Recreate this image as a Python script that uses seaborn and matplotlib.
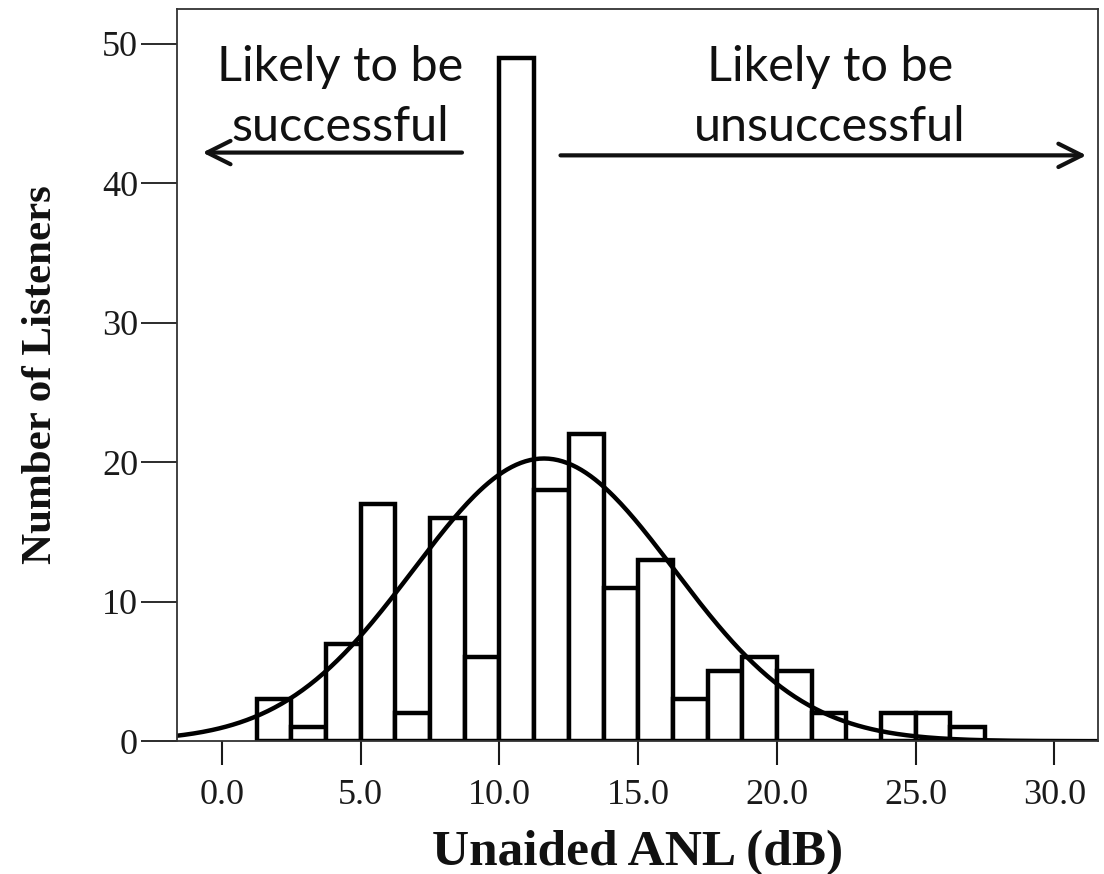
import numpy as np
import pandas as pd
import matplotlib
matplotlib.use("Agg")
import matplotlib.pyplot as plt
import seaborn as sns

# --- dados ---
bin_width = 1.25
bin_left = [1.25, 2.5, 3.75, 5.0, 6.25, 7.5, 8.75, 10.0, 11.25, 12.5, 13.75,
            15.0, 16.25, 17.5, 18.75, 20.0, 21.25, 22.5, 23.75, 25.0, 26.25]
counts = [3, 1, 7, 17, 2, 16, 6, 49, 18, 22, 11,
          13, 3, 5, 6, 5, 2, 0, 2, 2, 1]
curve_mean = 11.6   # pico da curva normal
curve_sd = 4.7
x_ticks = [0.0, 5.0, 10.0, 15.0, 20.0, 25.0, 30.0]
y_ticks = [0, 10, 20, 30, 40, 50]

df = pd.DataFrame({"anl": np.array(bin_left) + bin_width / 2, "n": counts})
edges = list(bin_left) + [bin_left[-1] + bin_width]

sns.set_theme(style="white")
plt.rcParams["font.family"] = ["Liberation Serif", "DejaVu Serif"]
plt.rcParams["text.color"] = "#111111"
plt.rcParams["axes.labelcolor"] = "#111111"

fig = plt.figure(figsize=(11.04, 8.74), dpi=100)
ax = fig.add_axes([0.1603, 0.152, 0.8343, 0.8378])

sns.histplot(data=df, x="anl", weights="n", bins=edges, ax=ax,
             color="white", edgecolor="black", linewidth=3.2, alpha=1)

# curva normal ajustada
xs = np.linspace(-1.7, 31.7, 400)
total = sum(counts)
ys = total * bin_width / (curve_sd * np.sqrt(2 * np.pi)) * np.exp(-0.5 * ((xs - curve_mean) / curve_sd) ** 2)
sns.lineplot(x=xs, y=ys, ax=ax, color="black", linewidth=3.2)

ax.set_xlim(-1.62, 31.57)
ax.set_ylim(0, 52.5)
ax.set_xticks(x_ticks)
ax.set_xticklabels([f"{v:.1f}" for v in x_ticks])
ax.set_yticks(y_ticks)
ax.tick_params(axis="y", direction="out", length=26, width=1.3, pad=2,
               labelsize=26, left=True, colors="#1a1a1a")
ax.tick_params(axis="x", direction="out", length=17, width=1.5, pad=10,
               labelsize=26, bottom=True, colors="#1a1a1a")
for s in ax.spines.values():
    s.set_color("#333333")
    s.set_linewidth(1.3)

ax.set_xlabel("Unaided ANL (dB)", fontsize=37, fontweight="bold", labelpad=13)
ax.set_ylabel("Number of Listeners", fontsize=31, fontweight="bold", labelpad=30)

# anotacoes
txt_font = ["Lato", "DejaVu Sans"]
ax.text(4.25, 46.2, "Likely to be\nsuccessful", ha="center", va="center",
        fontsize=35, family=txt_font, color="#111111", linespacing=1.45)
ax.text(21.9, 46.2, "Likely to be\nunsuccessful", ha="center", va="center",
        fontsize=35, family=txt_font, color="#111111", linespacing=1.45)
arrow = dict(arrowstyle="->,head_length=1.4,head_width=0.7", color="#111111", lw=3)
ax.annotate("", xy=(-0.8, 42.2), xytext=(8.75, 42.2), arrowprops=arrow)
ax.annotate("", xy=(31.25, 42.0), xytext=(12.1, 42.0), arrowprops=arrow)

fig.savefig("out.png", dpi=100)
